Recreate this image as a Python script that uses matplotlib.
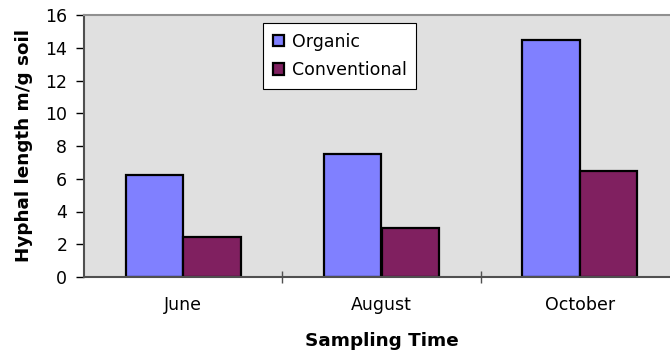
import numpy as np
import matplotlib.pyplot as plt
from matplotlib.ticker import FixedLocator

plt.rcParams['font.family'] = ['DejaVu Sans']

# Hyphal length per sampling month
months = ['June', 'August', 'October']
organic = [6.2, 7.5, 14.5]
conventional = [2.45, 3.0, 6.5]

fig = plt.figure(figsize=(6.7, 3.54), dpi=100)
# axes run a little past the right edge of the figure
ax = fig.add_axes([84 / 670, 1 - 277 / 354, 595 / 670, 262 / 354])
ax.set_facecolor('#E0E0E0')

x = np.arange(len(months))
w = 0.29
ax.bar(x - w / 2, organic, w, color='#8080FF', edgecolor='black',
       linewidth=1.6, label='Organic')
ax.bar(x + w / 2, conventional, w, color='#802060', edgecolor='black',
       linewidth=1.6, label='Conventional')

ax.set_xlim(-0.5, 2.5)
ax.set_ylim(0, 16)
ax.set_yticks(range(0, 17, 2))
ax.set_xticks(x)
ax.set_xticklabels(months, fontsize=12.5)
ax.xaxis.set_minor_locator(FixedLocator([0.5, 1.5, 2.5]))
ax.tick_params(axis='x', which='major', length=0, pad=14)
ax.tick_params(axis='x', which='minor', direction='inout', length=9,
               width=1, color='#505050')
ax.tick_params(axis='y', direction='out', length=6, width=1, pad=6,
               labelsize=12.5, color='black')

for side in ['left', 'bottom']:
    ax.spines[side].set_color('#505050')
    ax.spines[side].set_linewidth(1.5)
ax.spines['top'].set_color('#909090')
ax.spines['top'].set_linewidth(1.5)
ax.spines['right'].set_visible(False)

ax.set_ylabel('Hyphal length m/g soil', fontsize=13.2, fontweight='bold')
ax.set_xlabel('Sampling Time', fontsize=13.2, fontweight='bold')
ax.yaxis.set_label_coords(-0.0857, 0.5)
ax.xaxis.set_label_coords(0.5, -0.21)

leg = ax.legend(loc='upper left', bbox_to_anchor=(179 / 595, 1 - 8 / 262),
                fontsize=12.5, frameon=True, fancybox=False, framealpha=1,
                edgecolor='black', handlelength=0.65, handleheight=0.65,
                handletextpad=0.45, borderpad=0.55, labelspacing=0.6,
                borderaxespad=0)
leg.get_frame().set_linewidth(0.8)

fig.savefig('out.png', dpi=100)
